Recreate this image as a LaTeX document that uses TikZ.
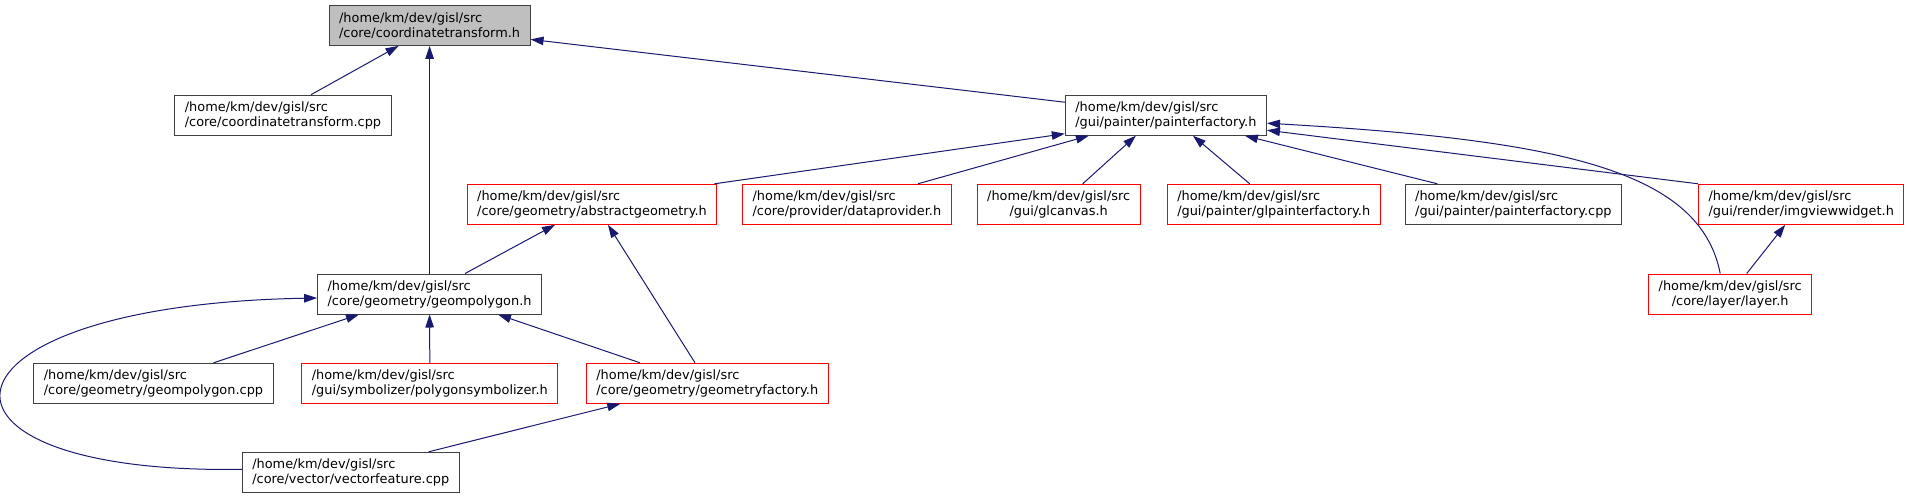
\documentclass[tikz,border=0pt]{standalone}
\usepackage{fontspec}
\setmainfont{DejaVu Sans}
\usepackage{tikz}
\usetikzlibrary{arrows.meta, positioning, calc}

\definecolor{edgeblue}{HTML}{191970}
\definecolor{boxgrey}{HTML}{404040}
\definecolor{rootfill}{HTML}{BFBFBF}

\begin{document}
\begin{tikzpicture}[
        x=1pt, y=-1pt,
        file/.style={rectangle, draw=boxgrey, line width=1pt, fill=white, align=left, inner xsep=10pt, minimum height=40pt, font=\fontsize{12.9}{15}\selectfont},
        root/.style={file, fill=rootfill},
        missing/.style={file, draw=red},
        dep/.style={draw=edgeblue, line width=1pt, {Triangle[length=13pt, width=8.5pt]}-}
    ]
    \useasboundingbox (0,0) rectangle (1911,499);

    % Files
    \node[root] (coordh) at (429.6,25.4) {/home/km/dev/gisl/src\\/core/coordinatetransform.h};
    \node[file] (coordcpp) at (283.0,115.2) {/home/km/dev/gisl/src\\/core/coordinatetransform.cpp};
    \node[file] (painterh) at (1165.9,115.2) {/home/km/dev/gisl/src\\/gui/painter/painterfactory.h};

    \node[missing] (abstractgeom) at (592.0,204.3) {/home/km/dev/gisl/src\\/core/geometry/abstractgeometry.h};
    \node[missing] (dataprov) at (846.9,204.3) {/home/km/dev/gisl/src\\/core/provider/dataprovider.h};
    \node[missing, align=center] (glcanvas) at (1058.7,204.3) {/home/km/dev/gisl/src\\/gui/glcanvas.h};
    \node[missing] (glpainter) at (1273.7,204.3) {/home/km/dev/gisl/src\\/gui/painter/glpainterfactory.h};
    \node[file] (paintercpp) at (1513.4,204.3) {/home/km/dev/gisl/src\\/gui/painter/painterfactory.cpp};
    \node[missing] (imgview) at (1801.2,204.3) {/home/km/dev/gisl/src\\/gui/render/imgviewwidget.h};

    \node[file] (geompoly) at (429.6,294.0) {/home/km/dev/gisl/src\\/core/geometry/geompolygon.h};
    \node[missing, align=center] (layer) at (1730.2,294.0) {/home/km/dev/gisl/src\\/core/layer/layer.h};

    \node[file] (geompolycpp) at (153.5,383.3) {/home/km/dev/gisl/src\\/core/geometry/geompolygon.cpp};
    \node[missing] (polysym) at (429.8,383.3) {/home/km/dev/gisl/src\\/gui/symbolizer/polygonsymbolizer.h};
    \node[missing] (geomfactory) at (707.3,383.3) {/home/km/dev/gisl/src\\/core/geometry/geometryfactory.h};

    \node[file] (vecfeature) at (350.8,472.3) {/home/km/dev/gisl/src\\/core/vector/vectorfeature.cpp};

    % Includes
    \draw[dep] ([xshift=-31pt]coordh.south) -- ([xshift=28pt]coordcpp.north);
    \draw[dep] (coordh.south) -- (geompoly.north);
    \draw[dep] ([yshift=-14pt]coordh.east) -- ([yshift=13pt]painterh.west);

    \draw[dep] ([yshift=2pt]painterh.south west) -- ([xshift=-3pt]abstractgeom.north east);
    \draw[dep] ([xshift=-77pt]painterh.south) -- ([xshift=71pt]dataprov.north);
    \draw[dep] ([xshift=-30pt]painterh.south) -- ([xshift=24pt]glcanvas.north);
    \draw[dep] ([xshift=27pt]painterh.south) -- ([xshift=-24pt]glpainter.north);
    \draw[dep] ([xshift=79pt]painterh.south) -- ([xshift=-76pt]paintercpp.north);
    \draw[dep] ([yshift=-15pt]painterh.east) -- (imgview.north west);
    \draw[dep] ([yshift=-8pt]painterh.east) .. controls (1560,140) and (1700,170) .. ([xshift=-10pt]layer.north);
    \draw[dep] ([xshift=-16pt]imgview.south) -- ([xshift=16.5pt]layer.north);

    \draw[dep] ([xshift=-37pt]abstractgeom.south) -- ([xshift=35.4pt]geompoly.north);
    \draw[dep] ([xshift=16pt]abstractgeom.south) -- ([xshift=-12.3pt]geomfactory.north);

    \draw[dep] ([xshift=-70.6pt]geompoly.south) -- ([xshift=60pt]geompolycpp.north);
    \draw[dep] (geompoly.south) -- (polysym.north);
    \draw[dep] ([xshift=68.4pt]geompoly.south) -- ([xshift=-67.3pt]geomfactory.north);
    \draw[dep] ([yshift=-4pt]geompoly.west) .. controls (-80,305) and (-100,475) .. ([yshift=3pt]vecfeature.west);
    \draw[dep] ([xshift=-87pt]geomfactory.south) -- ([xshift=77.8pt]vecfeature.north);

\end{tikzpicture}
\end{document}
